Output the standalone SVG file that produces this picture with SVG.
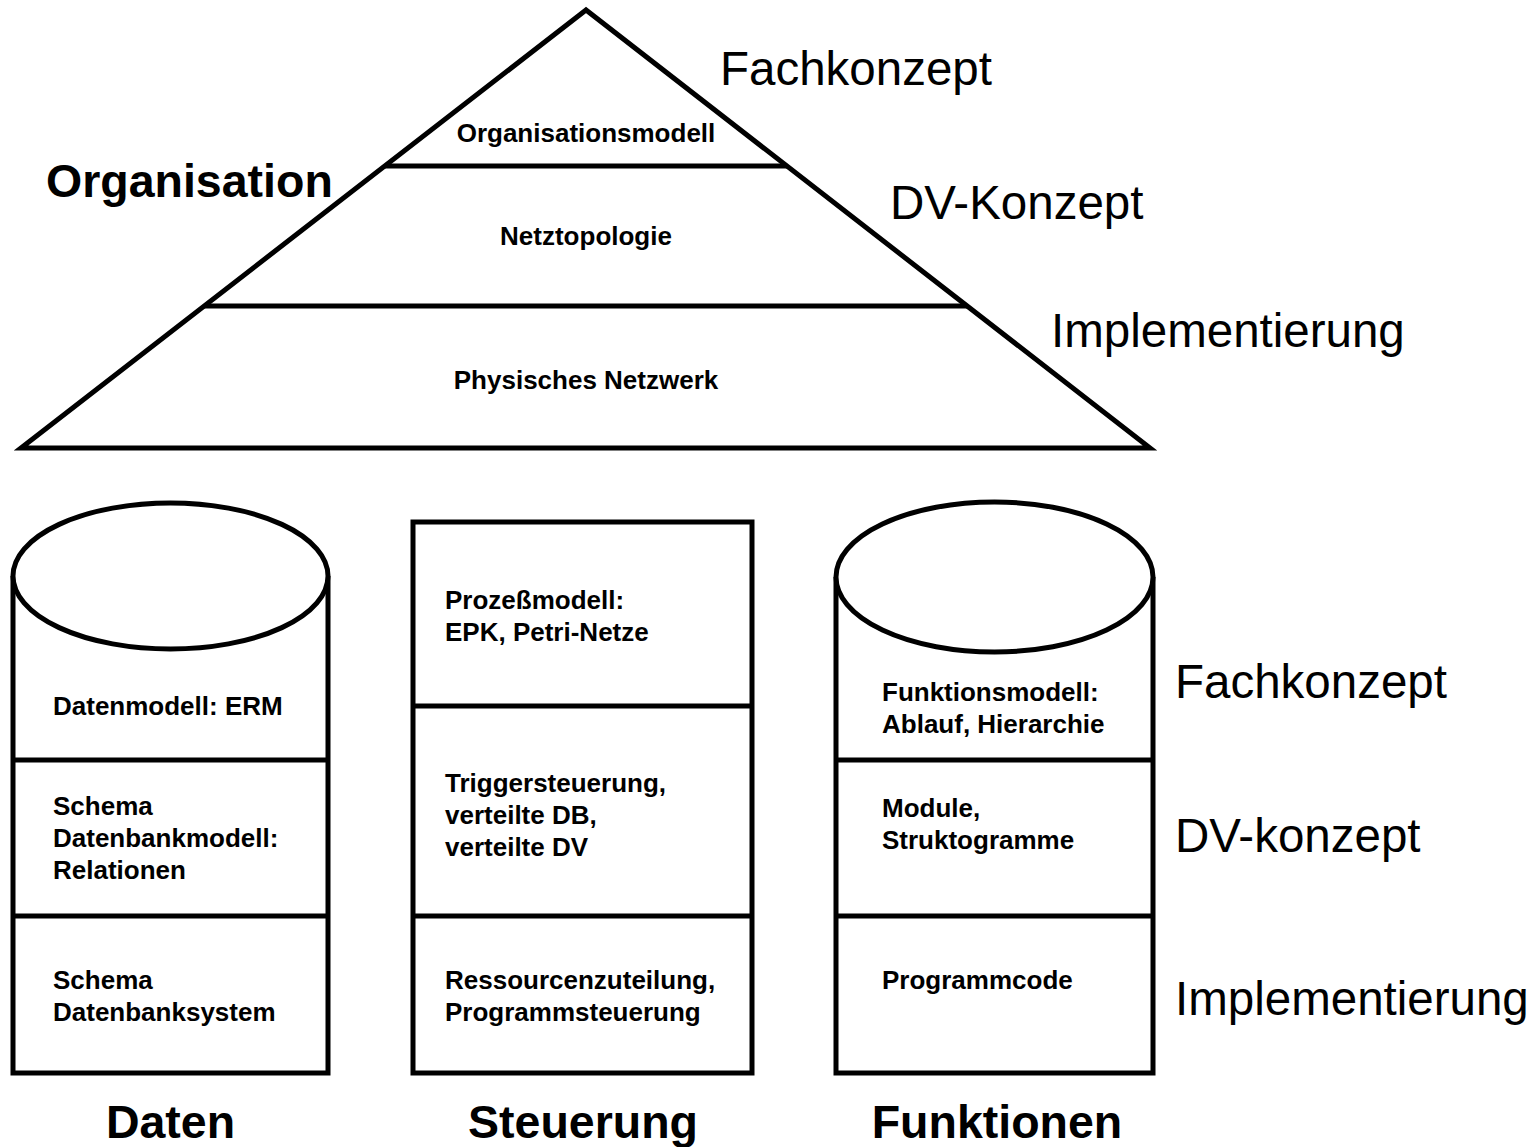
<svg xmlns="http://www.w3.org/2000/svg" width="1537" height="1147" viewBox="0 0 1537 1147">
  <style>
    .shape { fill: #fff; stroke: #000; stroke-width: 5; stroke-linejoin: miter; }
    .rule { stroke: #000; stroke-width: 5; fill: none; }
    .small { font-family: "Liberation Sans", Arial, sans-serif; font-weight: bold; font-size: 26px; fill: #000; }
    .title { font-family: "Liberation Sans", Arial, sans-serif; font-weight: bold; font-size: 46.5px; fill: #000; }
    .level { font-family: "Liberation Sans", Arial, sans-serif; font-size: 47.5px; fill: #000; }
    .mid { text-anchor: middle; }
  </style>
  <rect width="1537" height="1147" fill="#fff"/>

  <!-- Organisation pyramid -->
  <g id="organisation">
    <polygon class="shape" points="586,10 21,448 1150,448"/>
    <line class="rule" x1="385" y1="166" x2="787" y2="166"/>
    <line class="rule" x1="204" y1="306" x2="967" y2="306"/>
    <text class="small mid" x="586" y="142">Organisationsmodell</text>
    <text class="small mid" x="586" y="245">Netztopologie</text>
    <text class="small mid" x="586" y="389">Physisches Netzwerk</text>
    <text class="title" x="46" y="197">Organisation</text>
  </g>

  <!-- level labels beside the pyramid -->
  <g id="pyramid-levels">
    <text class="level" x="720" y="85">Fachkonzept</text>
    <text class="level" x="890" y="219">DV-Konzept</text>
    <text class="level" x="1051" y="347">Implementierung</text>
  </g>

  <!-- Daten cylinder -->
  <g id="daten">
    <path class="shape" d="M13,576 V1073 H328 V576"/>
    <ellipse class="shape" cx="170.5" cy="576" rx="157.5" ry="73"/>
    <line class="rule" x1="13" y1="760" x2="328" y2="760"/>
    <line class="rule" x1="13" y1="916" x2="328" y2="916"/>
    <text class="small" x="53" y="715">Datenmodell: ERM</text>
    <text class="small" x="53" y="815">Schema</text>
    <text class="small" x="53" y="847">Datenbankmodell:</text>
    <text class="small" x="53" y="879">Relationen</text>
    <text class="small" x="53" y="989">Schema</text>
    <text class="small" x="53" y="1021">Datenbanksystem</text>
    <text class="title mid" x="170.5" y="1138">Daten</text>
  </g>

  <!-- Steuerung box -->
  <g id="steuerung">
    <rect class="shape" x="413" y="522" width="339" height="551"/>
    <line class="rule" x1="413" y1="706" x2="752" y2="706"/>
    <line class="rule" x1="413" y1="916" x2="752" y2="916"/>
    <text class="small" x="445" y="609">Prozeßmodell:</text>
    <text class="small" x="445" y="641">EPK, Petri-Netze</text>
    <text class="small" x="445" y="792">Triggersteuerung,</text>
    <text class="small" x="445" y="824">verteilte DB,</text>
    <text class="small" x="445" y="856">verteilte DV</text>
    <text class="small" x="445" y="989">Ressourcenzuteilung,</text>
    <text class="small" x="445" y="1021">Programmsteuerung</text>
    <text class="title mid" x="583" y="1138">Steuerung</text>
  </g>

  <!-- Funktionen cylinder -->
  <g id="funktionen">
    <path class="shape" d="M836,577 V1073 H1153 V577"/>
    <ellipse class="shape" cx="994.5" cy="577" rx="158.5" ry="75"/>
    <line class="rule" x1="836" y1="760" x2="1153" y2="760"/>
    <line class="rule" x1="836" y1="916" x2="1153" y2="916"/>
    <text class="small" x="882" y="701">Funktionsmodell:</text>
    <text class="small" x="882" y="733">Ablauf, Hierarchie</text>
    <text class="small" x="882" y="817">Module,</text>
    <text class="small" x="882" y="849">Struktogramme</text>
    <text class="small" x="882" y="989">Programmcode</text>
    <text class="title mid" x="997" y="1138">Funktionen</text>
  </g>

  <!-- level labels beside the columns -->
  <g id="column-levels">
    <text class="level" x="1175" y="698">Fachkonzept</text>
    <text class="level" x="1175" y="852">DV-konzept</text>
    <text class="level" x="1175" y="1015">Implementierung</text>
  </g>
</svg>
